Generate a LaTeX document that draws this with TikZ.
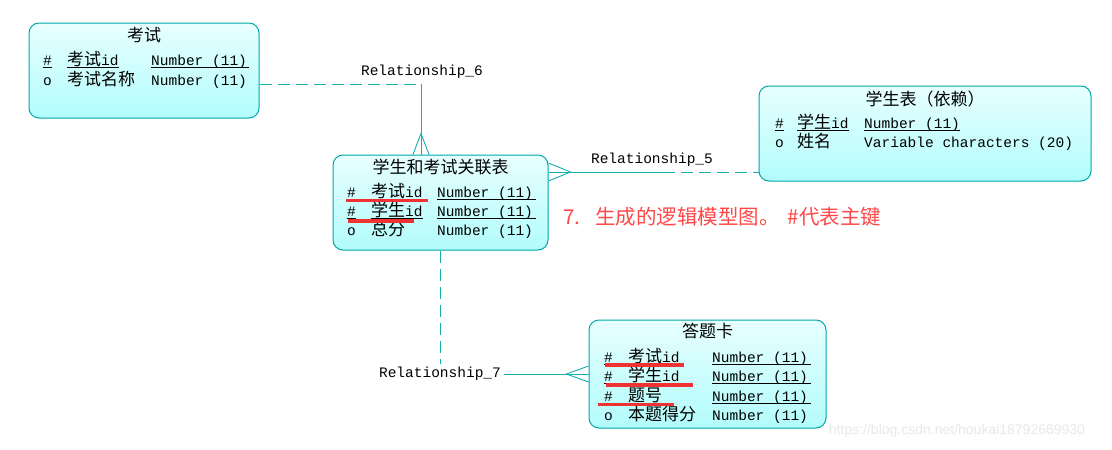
\documentclass[tikz,border=0pt]{standalone}
\usepackage{fontspec}
\setmainfont{Liberation Mono}
\newfontfamily\cjk{Noto Sans CJK SC}
\newfontfamily\wmfont{Liberation Sans}
\usetikzlibrary{calc}
\definecolor{entborder}{RGB}{0,168,168}
\definecolor{entlight}{RGB}{232,255,255}
\definecolor{entdark}{RGB}{178,252,252}
\definecolor{relcol}{RGB}{20,176,176}
\definecolor{markred}{RGB}{240,50,50}
\definecolor{capred}{RGB}{255,72,72}
\newcommand\zhtxt[1]{{\cjk\fontsize{17}{20}\selectfont #1}}
\newcommand\ulnode[2][0pt]{\draw[ul] ([yshift=-2.3pt]#2.base west) -- ([yshift=-2.3pt,xshift=#1]#2.base east);}
\begin{document}
\begin{tikzpicture}[x=1pt,y=-1pt,
 ent/.style={draw=entborder, line width=1pt, rounded corners=10pt, top color=entlight, bottom color=entdark, inner sep=0pt},
 txt/.style={anchor=base west, inner sep=0pt, font=\fontsize{14.5}{17}\selectfont},
 ttl/.style={anchor=base, inner sep=0pt, font=\cjk\fontsize{17}{20}\selectfont},
 ul/.style={line width=0.8pt, black},
 rel/.style={draw=relcol, line width=0.9pt},
 reldash/.style={rel, dash pattern=on 12pt off 6pt},
 lbl/.style={inner sep=1pt, font=\fontsize{14.5}{17}\selectfont},
 redmark/.style={draw=markred, line width=3.5pt},
]
\fill[white] (0,0) rectangle (1112,450);
\useasboundingbox (0,0) rectangle (1112,450);

% ---------- entities ----------
\node[ent, minimum width=230pt, minimum height=95pt] (b1) at (144,70.5) {};
\node[ent, minimum width=215pt, minimum height=95pt] (b2) at (440.5,202.5) {};
\node[ent, minimum width=332pt, minimum height=95pt] (b3) at (925,133.5) {};
\node[ent, minimum width=237pt, minimum height=108pt] (b4) at (707.5,374) {};

% box 1
\node[ttl] (h1) at (144,41) {考试};
\node[txt] (t1a) at (43,65) {\#};
\node[txt] (t1b) at (67,65) {\zhtxt{考试}id};
\node[txt] (t1c) at (151,65) {Number (11)};
\node[txt] (t1d) at (43,85) {o};
\node[txt] (t1e) at (67,85) {\zhtxt{考试名称}};
\node[txt] (t1f) at (151,85) {Number (11)};
\ulnode{t1a}\ulnode{t1b}\ulnode[2pt]{t1c}

% box 2
\node[ttl] (h2) at (440.5,173) {学生和考试关联表};
\node[txt] (t2a) at (347,197) {\#};
\node[txt] (t2b) at (371,197) {\zhtxt{考试}id};
\node[txt] (t2c) at (437,197) {Number (11)};
\node[txt] (t2d) at (347,216) {\#};
\node[txt] (t2e) at (371,216) {\zhtxt{学生}id};
\node[txt] (t2f) at (437,216) {Number (11)};
\node[txt] (t2g) at (347,235.5) {o};
\node[txt] (t2h) at (371,235.5) {\zhtxt{总分}};
\node[txt] (t2i) at (437,235.5) {Number (11)};
\ulnode{t2a}\ulnode{t2b}\ulnode[2.5pt]{t2c}
\ulnode{t2d}\ulnode{t2e}\ulnode[2.5pt]{t2f}

% box 3
\node[ttl] (h3) at (925,105) {学生表（依赖）};
\node[txt] (t3a) at (775,128) {\#};
\node[txt] (t3b) at (797,128) {\zhtxt{学生}id};
\node[txt] (t3c) at (864,128) {Number (11)};
\node[txt] (t3d) at (775,147) {o};
\node[txt] (t3e) at (797,147) {\zhtxt{姓名}};
\node[txt] (t3f) at (864,147) {Variable characters (20)};
\ulnode{t3a}\ulnode{t3b}\ulnode{t3c}

% box 4
\node[ttl] (h4) at (707.5,337) {答题卡};
\node[txt] (t4a) at (604,362) {\#};
\node[txt] (t4b) at (628,362) {\zhtxt{考试}id};
\node[txt] (t4c) at (712,362) {Number (11)};
\node[txt] (t4d) at (604,381) {\#};
\node[txt] (t4e) at (628,381) {\zhtxt{学生}id};
\node[txt] (t4f) at (712,381) {Number (11)};
\node[txt] (t4g) at (604,401) {\#};
\node[txt] (t4h) at (628,401) {\zhtxt{题号}};
\node[txt] (t4i) at (712,401) {Number (11)};
\node[txt] (t4j) at (604,420) {o};
\node[txt] (t4k) at (628,420) {\zhtxt{本题得分}};
\node[txt] (t4l) at (712,420) {Number (11)};
\ulnode{t4a}\ulnode{t4b}\ulnode[2.5pt]{t4c}
\ulnode{t4d}\ulnode{t4e}\ulnode[2.5pt]{t4f}
\ulnode{t4g}\ulnode{t4h}\ulnode[2.5pt]{t4i}

% ---------- relationships ----------
% Relationship_6
\coordinate (c6) at (421,84);
\node[lbl] (r6) at (422,72) {Relationship\_6};
\draw[reldash] (b1.east |- c6) -- (c6);
\draw[rel] (c6) -- (c6 |- b2.north);
\draw[rel] ($(c6 |- b2.north)+(-8,0)$) -- ($(c6 |- b2.north)+(0,-21)$) -- ($(c6 |- b2.north)+(8,0)$);

% Relationship_5
\coordinate (c5) at (663,172);
\node[lbl] (r5) at (652,160) {Relationship\_5};
\draw[rel] (b2.east |- c5) -- (c5);
\draw[reldash] (c5) -- (b3.west |- c5);
\draw[rel] ($(b2.east |- c5)+(0,-9)$) -- ($(b2.east |- c5)+(22,0)$) -- ($(b2.east |- c5)+(0,9)$);

% Relationship_7
\node[lbl, inner sep=3pt] (r7) at (440,374) {Relationship\_7};
\draw[reldash] (r7 |- b2.south) -- (r7.north);
\draw[rel] (r7.east) -- (b4.west |- r7);
\draw[rel] ($(b4.west |- r7)+(0,-8)$) -- ($(b4.west |- r7)+(-22,0)$) -- ($(b4.west |- r7)+(0,8)$);

% ---------- red annotation marks ----------
\draw[redmark] (346,200.5) -- (428,200.5);
\draw[redmark] (348,221) -- (414,221);
\draw[redmark] (605,365) -- (684,365);
\draw[redmark] (606,385) -- (693,385);
\draw[redmark] (598,404.5) -- (674,404.5);

% caption
\node[anchor=base west, inner sep=0pt, text=capred, font=\cjk\fontsize{20.5}{24}\selectfont] (cap) at (563,224) {7.\hspace{15pt}生成的逻辑模型图。\hspace{8pt}\#代表主键};

% watermark
\node[inner sep=0pt, text=black!9, font=\wmfont\fontsize{14}{16}\selectfont] (wm) at (957,431) {https://blog.csdn.net/houkai18792669930};
\end{tikzpicture}
\end{document}
